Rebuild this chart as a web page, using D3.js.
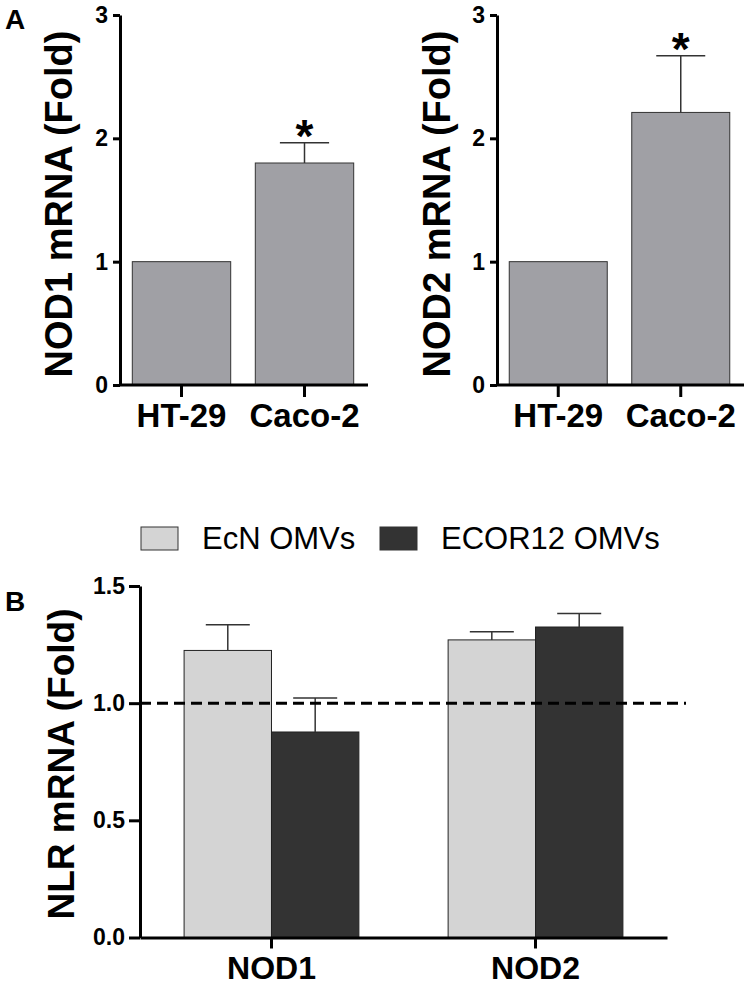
<!DOCTYPE html>
<html>
<head>
<meta charset="utf-8">
<script src="https://cdn.jsdelivr.net/npm/d3@7"></script>
<style>
  body { margin: 0; background: #fff; }
  text { font-family: "Liberation Sans", Arial, sans-serif; }
</style>
</head>
<body>
<div id="chart"></div>
<script>
// panel A data
const cellLines = ["HT-29", "Caco-2"];
const nod1Fold = [1.0, 1.80];
const nod1Err = [0, 0.165];
const nod2Fold = [1.0, 2.21];
const nod2Err = [0, 0.46];
const panelATicks = [0, 1, 2, 3];

// panel B data
const nlrGenes = ["NOD1", "NOD2"];
const omvSeries = ["EcN OMVs", "ECOR12 OMVs"];
const ecnFold = [1.225, 1.27];
const ecnErr = [0.11, 0.035];
const ecorFold = [0.877, 1.325];
const ecorErr = [0.145, 0.058];
const panelBTicks = [0, 0.5, 1.0, 1.5];

const svg = d3.select('#chart')
    .append('svg')
    .attr('width', 749)
    .attr('height', 987);

const styleAxis = (g, fontSize) => {
    g.select('.domain').attr('stroke', '#000').attr('stroke-width', 3);
    g.selectAll('.tick line').attr('stroke', '#000').attr('stroke-width', 3);
    g.selectAll('.tick text')
        .attr('fill', '#000')
        .style('font-size', fontSize + 'px')
        .style('font-weight', 'bold');
};

// ---- panel A: one small bar chart per gene
const drawPanelA = (x0, x1, values, errs, title, titleX) => {
    const y = d3.scaleLinear().domain([0, 3]).range([385, 15]);
    const x = d3.scaleBand().domain(cellLines).range([x0, x1])
        .paddingInner(0.2).paddingOuter(0.1);

    const g = svg.append('g');

    g.selectAll('rect.bar')
        .data(cellLines)
        .enter()
        .append('rect')
        .attr('class', 'bar')
        .attr('x', d => x(d))
        .attr('width', x.bandwidth())
        .attr('y', (d, i) => y(values[i]))
        .attr('height', (d, i) => y(0) - y(values[i]))
        .attr('fill', '#a0a0a5')
        .attr('stroke', '#333')
        .attr('stroke-width', 1);

    // error bars (upper half only)
    cellLines.forEach((d, i) => {
        if (!errs[i]) return;
        const cx = x(d) + x.bandwidth() / 2;
        const top = y(values[i] + errs[i]);
        g.append('line')
            .attr('x1', cx).attr('x2', cx)
            .attr('y1', y(values[i])).attr('y2', top)
            .attr('stroke', '#333').attr('stroke-width', 1.5);
        g.append('line')
            .attr('x1', cx - x.bandwidth() / 4).attr('x2', cx + x.bandwidth() / 4)
            .attr('y1', top).attr('y2', top)
            .attr('stroke', '#333').attr('stroke-width', 1.5);
        // significance star
        g.append('text')
            .attr('x', cx)
            .attr('y', top + 9)
            .attr('text-anchor', 'middle')
            .style('font-size', '46px')
            .style('font-weight', 'bold')
            .text('*');
    });

    const yAxisGroup = g.append('g')
        .attr('transform', `translate(${x0}, 0)`)
        .call(d3.axisLeft(y).tickValues(panelATicks).tickFormat(d3.format('d'))
            .tickSize(7).tickSizeOuter(0).tickPadding(5));
    styleAxis(yAxisGroup, 23);

    const xAxisGroup = g.append('g')
        .attr('transform', `translate(0, ${y(0)})`)
        .call(d3.axisBottom(x).tickSize(12).tickSizeOuter(0).tickPadding(7));
    styleAxis(xAxisGroup, 33);
    xAxisGroup.select('.domain').attr('d', `M${x0},0H${x1 + 2}`);

    g.append('text')
        .attr('transform', `translate(${titleX}, 204) rotate(-90)`)
        .attr('text-anchor', 'middle')
        .style('font-size', '38px')
        .style('font-weight', 'bold')
        .text(title);
};

drawPanelA(120, 366, nod1Fold, nod1Err, 'NOD1 mRNA (Fold)', 72);
drawPanelA(497, 742, nod2Fold, nod2Err, 'NOD2 mRNA (Fold)', 450);

svg.append('text')
    .attr('x', 5).attr('y', 29)
    .style('font-size', '28px').style('font-weight', 'bold')
    .text('A');

// ---- panel B: grouped bars
const yB = d3.scaleLinear().domain([0, 1.5]).range([937.5, 586]);
const xB = d3.scaleBand().domain(nlrGenes).range([140, 667])
    .paddingInner(0.338).paddingOuter(0.167);
const xSub = d3.scaleBand().domain(omvSeries).range([0, xB.bandwidth()]);
const omvColor = d3.scaleOrdinal().domain(omvSeries).range(['#d4d4d4', '#333333']);

const seriesValues = { 'EcN OMVs': ecnFold, 'ECOR12 OMVs': ecorFold };
const seriesErrs = { 'EcN OMVs': ecnErr, 'ECOR12 OMVs': ecorErr };

const bRows = [];
nlrGenes.forEach((gene, gi) => {
    omvSeries.forEach(s => {
        bRows.push({ gene: gene, series: s, value: seriesValues[s][gi], err: seriesErrs[s][gi] });
    });
});

const gB = svg.append('g');

gB.selectAll('rect.barB')
    .data(bRows)
    .enter()
    .append('rect')
    .attr('class', 'barB')
    .attr('x', d => xB(d.gene) + xSub(d.series))
    .attr('width', xSub.bandwidth())
    .attr('y', d => yB(d.value))
    .attr('height', d => yB(0) - yB(d.value))
    .attr('fill', d => omvColor(d.series))
    .attr('stroke', '#222')
    .attr('stroke-width', 1);

bRows.forEach(d => {
    const cx = xB(d.gene) + xSub(d.series) + xSub.bandwidth() / 2;
    const top = yB(d.value + d.err);
    gB.append('line')
        .attr('x1', cx).attr('x2', cx)
        .attr('y1', yB(d.value)).attr('y2', top)
        .attr('stroke', '#333').attr('stroke-width', 1.5);
    gB.append('line')
        .attr('x1', cx - 22).attr('x2', cx + 22)
        .attr('y1', top).attr('y2', top)
        .attr('stroke', '#333').attr('stroke-width', 1.5);
});

// reference line at fold = 1
gB.append('line')
    .attr('x1', 140).attr('x2', 686)
    .attr('y1', yB(1)).attr('y2', yB(1))
    .attr('stroke', '#000')
    .attr('stroke-width', 3)
    .attr('stroke-dasharray', '11,6');

const yBAxis = gB.append('g')
    .attr('transform', 'translate(140, 0)')
    .call(d3.axisLeft(yB).tickValues(panelBTicks).tickFormat(d3.format('.1f'))
        .tickSize(11).tickSizeOuter(0).tickPadding(4));
styleAxis(yBAxis, 23);

const xBAxis = gB.append('g')
    .attr('transform', `translate(0, ${yB(0)})`)
    .call(d3.axisBottom(xB).tickSize(11).tickSizeOuter(0).tickPadding(8));
styleAxis(xBAxis, 32);

gB.append('text')
    .attr('transform', 'translate(74, 764) rotate(-90)')
    .attr('text-anchor', 'middle')
    .style('font-size', '37px')
    .style('font-weight', 'bold')
    .text('NLR mRNA (Fold)');

svg.append('text')
    .attr('x', 5).attr('y', 611)
    .style('font-size', '28px').style('font-weight', 'bold')
    .text('B');

// legend
const legendX = [141, 380];
const legend = svg.selectAll('g.legend')
    .data(omvSeries)
    .enter()
    .append('g')
    .attr('class', 'legend')
    .attr('transform', (d, i) => `translate(${legendX[i]}, 527)`);

legend.append('rect')
    .attr('width', 37).attr('height', 23)
    .attr('fill', d => omvColor(d))
    .attr('stroke', '#333').attr('stroke-width', 1);

legend.append('text')
    .attr('x', 61).attr('y', 22)
    .style('font-size', '31px')
    .attr('fill', '#000')
    .text(d => d);
</script>
</body>
</html>
